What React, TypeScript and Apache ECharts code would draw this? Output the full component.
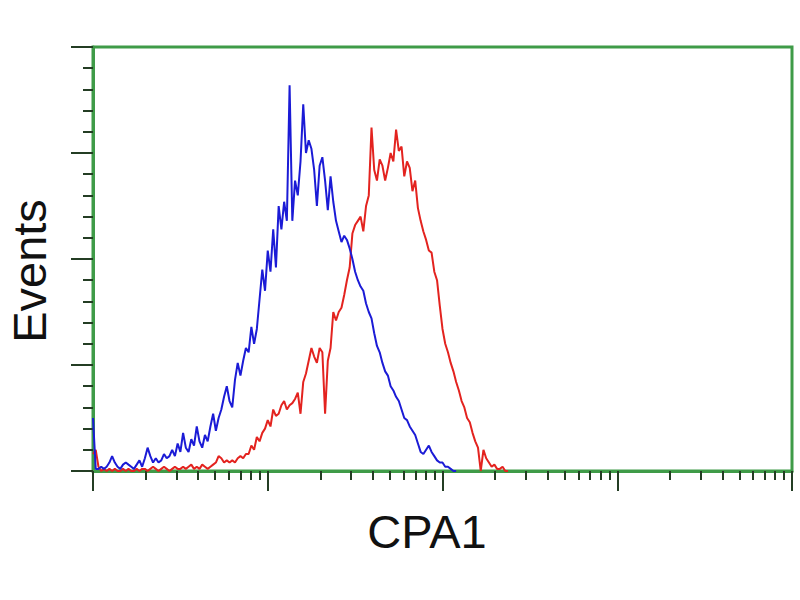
import React, { useEffect, useRef } from "react";
import * as echarts from "echarts";

// Histogram channels: 64 channels per decade, 4 decades (256 channels)
const CHANNELS_PER_DECADE = 64;
const DECADES = [0, 1, 2, 3];
const MINOR_MULTIPLIERS = [2, 3, 4, 5, 6, 7, 8, 9];

const X_LABEL = "CPA1";
const Y_LABEL = "Events";

// Events per channel (channel index = array index)
const controlCounts = [
  25, 1, 1, 2, 1, 2, 4, 7, 4, 2,
  1, 3, 4, 3, 2, 1, 3, 5, 2, 6,
  11, 7, 4, 6, 4, 5, 8, 6, 7, 10,
  7, 13, 9, 18, 11, 9, 15, 12, 21, 14,
  11, 17, 14, 21, 27, 19, 25, 29, 35, 40,
  33, 30, 43, 51, 45, 52, 58, 56, 68, 60,
  67, 81, 95, 85, 104, 94, 114, 96, 125, 114,
  127, 118, 182, 118, 137, 130, 146, 173, 150, 156,
  152, 142, 125, 144, 148, 137, 123, 139, 127, 118,
  113, 108, 111, 109, 105, 100, 94, 90, 87, 85,
  79, 75, 72, 65, 59, 56, 51, 47, 45, 40,
  38, 35, 33, 29, 25, 24, 21, 19, 17, 13,
  9, 8, 10, 12, 9, 7, 5, 4, 4, 2,
  2, 1, 0, 0,
];

const stainedCounts = [
  8, 10, 2, 0, 1, 0, 1, 0, 1, 0,
  0, 1, 0, 1, 0, 0, 1, 0, 1, 1,
  0, 1, 2, 1, 0, 1, 2, 1, 0, 1,
  2, 1, 1, 2, 1, 2, 3, 1, 2, 1,
  3, 2, 1, 2, 3, 4, 7, 6, 4, 5,
  4, 5, 4, 6, 7, 6, 8, 8, 12, 10,
  16, 14, 18, 20, 24, 21, 29, 26, 27, 31,
  33, 29, 31, 32, 34, 37, 27, 42, 46, 52,
  58, 54, 51, 58, 56, 27, 52, 58, 75, 71,
  75, 77, 83, 90, 96, 112, 116, 118, 120, 113,
  125, 130, 162, 142, 137, 147, 144, 137, 143, 150,
  146, 161, 151, 153, 139, 146, 143, 132, 137, 124,
  118, 113, 109, 104, 103, 94, 90, 78, 67, 60,
  56, 51, 47, 42, 38, 33, 30, 25, 23, 18,
  14, 11, 0, 10, 6, 4, 2, 3, 1, 1,
  2, 0, 0,
];

const Y_MAX = 200;
const Y_INTERVAL = 50;

export default function App() {
  const ref = useRef<HTMLDivElement>(null);

  useEffect(() => {
    if (!ref.current) return;
    const chart = echarts.init(ref.current, null, { renderer: "svg" });

    const xMax = CHANNELS_PER_DECADE * DECADES.length;
    const minorTicks: number[] = [];
    DECADES.forEach((d) => {
      MINOR_MULTIPLIERS.forEach((k) => {
        minorTicks.push(CHANNELS_PER_DECADE * (d + Math.log10(k)));
      });
    });

    const green = "#3f9b48";
    const tickColor = "#243d24";

    chart.setOption({
      animation: false,
      backgroundColor: "#ffffff",
      grid: {
        left: 93,
        right: 8,
        top: 47,
        bottom: 129,
        show: true,
        borderColor: green,
        borderWidth: 3,
      },
      xAxis: [
        {
          type: "value",
          min: 0,
          max: xMax,
          interval: CHANNELS_PER_DECADE,
          axisLine: { show: true, lineStyle: { color: green, width: 3 } },
          axisTick: { show: true, inside: false, length: 20, lineStyle: { color: tickColor, width: 2 } },
          axisLabel: { show: false },
          splitLine: { show: false },
        },
        {
          type: "value",
          min: 0,
          max: xMax,
          position: "bottom",
          axisLine: { show: false },
          axisTick: {
            show: true,
            inside: false,
            length: 9,
            customValues: minorTicks,
            lineStyle: { color: tickColor, width: 2 },
          },
          axisLabel: { show: false },
          splitLine: { show: false },
        },
      ],
      yAxis: {
        type: "value",
        min: 0,
        max: Y_MAX,
        interval: Y_INTERVAL,
        axisLine: { show: true, lineStyle: { color: green, width: 3 } },
        axisTick: { show: true, inside: false, length: 22, lineStyle: { color: tickColor, width: 2 } },
        minorTick: { show: true, splitNumber: 5, length: 10, lineStyle: { color: tickColor, width: 2 } },
        axisLabel: { show: false },
        splitLine: { show: false },
        minorSplitLine: { show: false },
      },
      series: [
        {
          type: "line",
          xAxisIndex: 0,
          data: stainedCounts.map((v, i) => [i, v]),
          showSymbol: false,
          symbol: "none",
          lineStyle: { color: "#e3231f", width: 2 },
          z: 2,
        },
        {
          type: "line",
          xAxisIndex: 0,
          data: controlCounts.map((v, i) => [i, v]),
          showSymbol: false,
          symbol: "none",
          lineStyle: { color: "#1b1bd6", width: 2 },
          z: 3,
        },
      ],
      graphic: [
        {
          type: "text",
          x: 29,
          y: 271,
          rotation: Math.PI / 2,
          style: {
            text: Y_LABEL,
            fill: "#111111",
            font: '47px "Liberation Sans", Arial, sans-serif',
            textAlign: "center",
            textVerticalAlign: "middle",
          },
        },
        {
          type: "text",
          x: 427,
          y: 531,
          style: {
            text: X_LABEL,
            fill: "#111111",
            font: '47px "Liberation Sans", Arial, sans-serif',
            textAlign: "center",
            textVerticalAlign: "middle",
          },
        },
      ],
    });

    return () => chart.dispose();
  }, []);

  return (
    <div
      ref={ref}
      style={{ position: "fixed", left: 0, top: 0, width: 800, height: 600, background: "#fff" }}
    />
  );
}
